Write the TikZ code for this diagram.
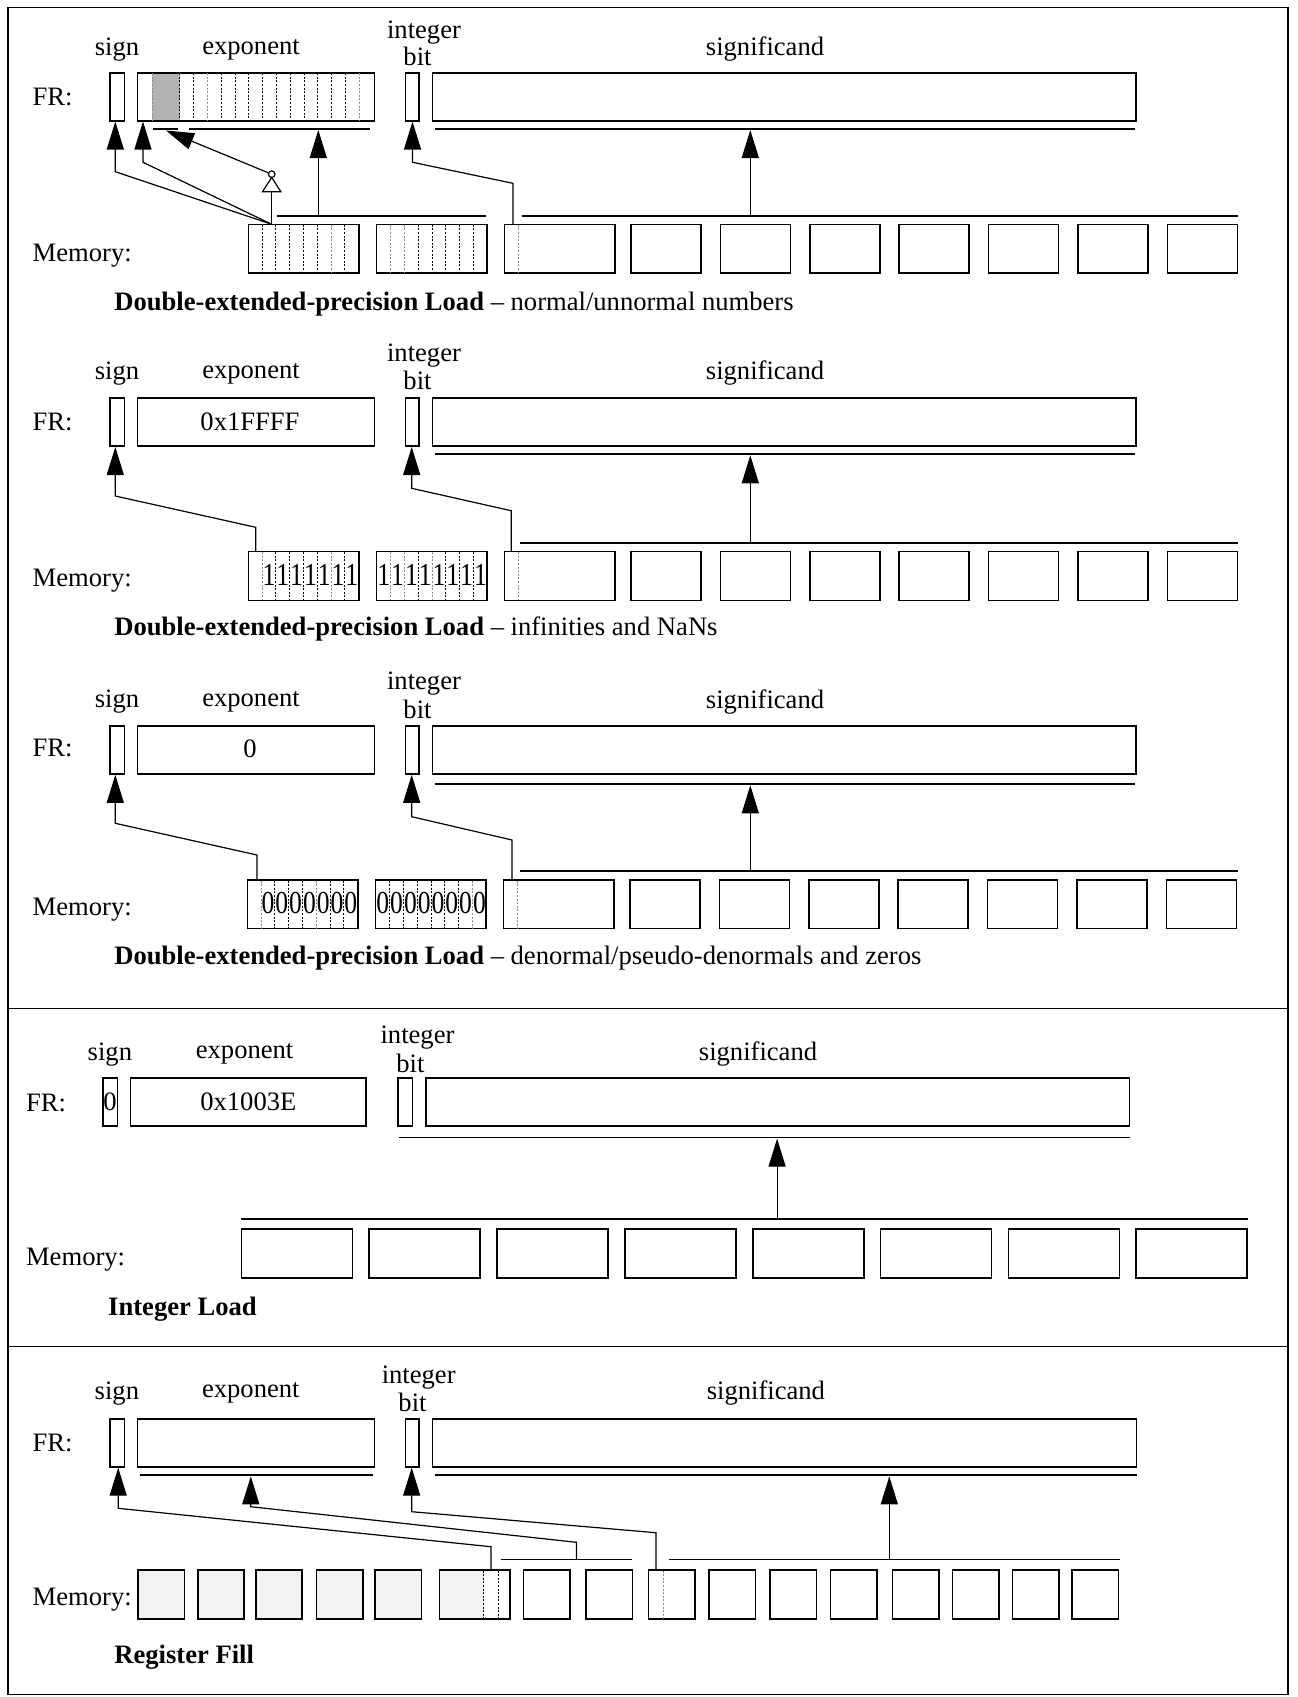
\documentclass[tikz,border=0pt]{standalone}
\usepackage{fontspec}
\setmainfont{Liberation Serif}
\newfontfamily\digitfont[FakeStretch=0.8]{Liberation Serif}
\usetikzlibrary{arrows.meta}

\tikzset{
  lbl/.style={font=\fontsize{13.3}{15}\selectfont, inner sep=0pt},
  digit/.style={font=\digitfont\fontsize{16}{16}\selectfont, inner sep=0pt},
  reg/.style={draw, line width=0.8pt, inner sep=0pt, minimum height=24pt, font=\fontsize{13.3}{15}\selectfont},
  mem/.style={draw, line width=0.8pt, inner sep=0pt, minimum height=24.4pt},
  bus/.style={line width=0.8pt},
  conn/.style={line width=0.6pt},
  arr/.style={conn, -{Triangle[length=14pt,width=8.5pt]}},
  bitln/.style={line width=0.5pt, dash pattern=on 1pt off 0.8pt},
  bitgr/.style={bitln, black!45},
}

\begin{document}
\begin{tikzpicture}[x=0.5pt, y=-0.5pt]
\useasboundingbox (0,0) rectangle (1297,1697);

% frame and dividers
\draw[line width=0.6pt] (8,7.3) rectangle (1288,1694.5);
\draw[line width=0.6pt] (8,1008.3) -- (1288,1008.3);
\draw[line width=0.6pt] (8,1346.5) -- (1288,1346.5);

% ---------- normal/unnormal numbers ----------
\node[lbl] (sgnl1) at (117,49.5) {sign};
\node[lbl] (expl1) at (251,49.5) {exponent};
\node[lbl] (intl1) at (424,32.5) {integer};
\node[lbl] (bitl1) at (417.5,56.7) {bit};
\node[lbl] (sigl1) at (765,49) {significand};
\node[lbl, anchor=west] (fr1) at (32.3,96.7) {FR:};
\fill[black!30] (152.3,73.2) rectangle (179.9,120.2);
\node[reg, minimum width=7.2pt] (sgn1) at (117.2,96.7) {};
\node[reg, minimum width=118.4pt] (exp1) at (256,96.7) {};
\node[reg, minimum width=6.75pt] (ib1) at (412.25,96.7) {};
\node[reg, minimum width=351.8pt] (sig1) at (784.2,96.7) {};
\foreach \k in {2,3,5,6,7,8,9,10,11,12,13,14}
  \draw[bitln] (152.3+13.8*\k,73.2) -- ++(0,47);
\foreach \k in {0,4,15}
  \draw[bitgr] (152.3+13.8*\k,73.2) -- ++(0,47);
\draw[bus] (153,128.7) -- (177.5,128.7);
\draw[bus] (189,128.7) -- (370,128.7);
\draw[bus] (434.5,128.7) -- (1135,128.7);
\coordinate (ul1) at (0,130);

\node[lbl, anchor=west] (meml1) at (32.3,256) {Memory:};
\foreach \k in {0,1,2}
  \node[mem, minimum width=55.2pt] (m1-\k) at (248.3+128.1*\k+55.2,248.8) {};
\foreach \j in {0,...,6}
  \node[mem, minimum width=35pt] (n1-\j) at (631+89.4*\j+35,248.8) {};
\foreach \k in {1,2,3,4,5,7}
  \draw[bitln] (248.3+13.8*\k,224.8) -- ++(0,48);
\draw[bitgr] (248.3+13.8*6,224.8) -- ++(0,48);
\foreach \k in {3,...,7}
  \draw[bitln] (376.9+13.8*\k,224.8) -- ++(0,48);
\foreach \k in {1,2}
  \draw[bitgr] (376.9+13.8*\k,224.8) -- ++(0,48);
\draw[bitgr] (518.3,224.8) -- ++(0,48);
\draw[bus] (276.5,215.7) -- (486,215.7);
\draw[bus] (521.6,215.7) -- (1237.7,215.7);

\coordinate (t1) at (271.7,224.3);
\coordinate (inv1) at (271.7,191.7);
\coordinate (tip1) at (166,130.5);
\coordinate (texp1) at (318.3,215.7);
\coordinate (tsig1) at (750.3,215.7);
\coordinate (tib1) at (512.9,224.3);
\draw[arr] (t1) -- (115.3,171.7) -- (115.3,0 |- sgn1.south);
\draw[arr] (t1) -- (143,162.3) -- (143,0 |- exp1.south);
\draw[conn] (t1) -- (inv1);
\draw[conn, fill=white] (262.5,191.7) -- (280.9,191.7) -- (271.7,177.5) -- cycle;
\node[draw, circle, conn, inner sep=0pt, minimum size=3.3pt] (bub1) at (271.7,174.2) {};
\draw[arr] (bub1) -- (tip1);
\draw[arr] (texp1) -- (texp1 |- ul1);
\draw[arr] (tsig1) -- (tsig1 |- ul1);
\draw[arr] (tib1) -- (512.9,183.3) -- (412.5,162.3) -- (412.5,0 |- ib1.south);

\node[lbl, anchor=west] (cap1) at (114,304) {\textbf{Double-extended-precision Load} -- normal/unnormal numbers};

% ---------- infinities and NaNs ----------
\node[lbl] (sgnl2) at (117,373.5) {sign};
\node[lbl] (expl2) at (251,373.5) {exponent};
\node[lbl] (intl2) at (424,355.5) {integer};
\node[lbl] (bitl2) at (417.5,380.5) {bit};
\node[lbl] (sigl2) at (765,373.5) {significand};
\node[lbl, anchor=west] (fr2) at (32.3,421.7) {FR:};
\node[reg, minimum width=7.2pt] (sgn2) at (117.2,422.2) {};
\node[reg, minimum width=118.4pt] (exp2) at (256,422.2) {};
\node[lbl] (exv2) at (250,421.7) {0x1FFFF};
\node[reg, minimum width=6.75pt] (ib2) at (412.25,422.2) {};
\node[reg, minimum width=351.8pt] (sig2) at (784.2,422.2) {};
\draw[bus] (434.5,454) -- (1135,454);
\coordinate (ul2) at (0,455.3);

\node[lbl, anchor=west] (meml2) at (32.3,580.7) {Memory:};
\foreach \k in {0,1,2}
  \node[mem, minimum width=55.2pt] (m2-\k) at (248.3+128.1*\k+55.2,575.9) {};
\foreach \j in {0,...,6}
  \node[mem, minimum width=35pt] (n2-\j) at (631+89.4*\j+35,575.9) {};
\foreach \k in {2,3,4,5,7}
  \draw[bitln] (248.3+13.8*\k,552.2) -- ++(0,48);
\foreach \k in {1,6}
  \draw[bitgr] (248.3+13.8*\k,552.2) -- ++(0,48);
\foreach \k in {3,5,6,7}
  \draw[bitln] (376.9+13.8*\k,552.2) -- ++(0,48);
\foreach \k in {1,2,4}
  \draw[bitgr] (376.9+13.8*\k,552.2) -- ++(0,48);
\draw[bitgr] (518.3,552.2) -- ++(0,48);
\foreach \k in {1,...,7}
  \node[digit] (d2a-\k) at (248.3+13.8*\k+6.9,575) {1};
\foreach \k in {0,...,7}
  \node[digit] (d2b-\k) at (376.9+13.8*\k+6.9,575) {1};
\draw[bus] (520.3,542.7) -- (1237.7,542.7);

\coordinate (ts2) at (255.8,551.7);
\coordinate (tsig2) at (750.3,542.7);
\coordinate (tib2) at (511.2,551.7);
\draw[arr] (ts2) -- (255.8,527.3) -- (115.3,496) -- (115.3,0 |- sgn2.south);
\draw[arr] (tsig2) -- (tsig2 |- ul2);
\draw[arr] (tib2) -- (511.2,510.7) -- (411.7,488.3) -- (411.7,0 |- ib2.south);

\node[lbl, anchor=west] (cap2) at (114,629) {\textbf{Double-extended-precision Load} -- infinities and NaNs};

% ---------- denormals and zeros ----------
\node[lbl] (sgnl3) at (117,702) {sign};
\node[lbl] (expl3) at (251,702) {exponent};
\node[lbl] (intl3) at (424,684) {integer};
\node[lbl] (bitl3) at (417.5,709.5) {bit};
\node[lbl] (sigl3) at (765,702) {significand};
\node[lbl, anchor=west] (fr3) at (32.3,748.3) {FR:};
\node[reg, minimum width=7.2pt] (sgn3) at (117.2,750) {};
\node[reg, minimum width=118.4pt] (exp3) at (256,750) {};
\node[lbl] (exv3) at (250,748.3) {0};
\node[reg, minimum width=6.75pt] (ib3) at (412.25,750) {};
\node[reg, minimum width=351.8pt] (sig3) at (784.2,750) {};
\draw[bus] (434.5,784) -- (1135,784);
\coordinate (ul3) at (0,785.3);

\node[lbl, anchor=west] (meml3) at (32.3,909.2) {Memory:};
\foreach \k in {0,1,2}
  \node[mem, minimum width=55.2pt] (m3-\k) at (247.3+128.1*\k+55.2,904.2) {};
\foreach \j in {0,...,6}
  \node[mem, minimum width=35pt] (n3-\j) at (630+89.4*\j+35,904.2) {};
\foreach \k in {2,3,4,6,7}
  \draw[bitln] (247.3+13.8*\k,880.5) -- ++(0,48);
\foreach \k in {1,5}
  \draw[bitgr] (247.3+13.8*\k,880.5) -- ++(0,48);
\foreach \k in {1,...,6}
  \draw[bitln] (375.9+13.8*\k,880.5) -- ++(0,48);
\draw[bitgr] (375.9+13.8*7,880.5) -- ++(0,48);
\draw[bitgr] (517.3,880.5) -- ++(0,48);
\foreach \k in {1,...,7}
  \node[digit] (d3a-\k) at (247.3+13.8*\k+6.9,903.5) {0};
\foreach \k in {0,...,7}
  \node[digit] (d3b-\k) at (375.9+13.8*\k+6.9,903.5) {0};
\draw[bus] (520,870.7) -- (1237.7,870.7);

\coordinate (ts3) at (257,880);
\coordinate (tsig3) at (750.3,870.7);
\coordinate (tib3) at (512,880);
\draw[arr] (ts3) -- (257,855) -- (115.3,823.3) -- (115.3,0 |- sgn3.south);
\draw[arr] (tsig3) -- (tsig3 |- ul3);
\draw[arr] (tib3) -- (512,840) -- (411.7,816.7) -- (411.7,0 |- ib3.south);

\node[lbl, anchor=west] (cap3) at (114,958.3) {\textbf{Double-extended-precision Load} -- denormal/pseudo-denormals and zeros};

% ---------- integer load ----------
\node[lbl] (sgnl4) at (109.9,1054.2) {sign};
\node[lbl] (expl4) at (244.6,1054.2) {exponent};
\node[lbl] (intl4) at (417.5,1037.5) {integer};
\node[lbl] (bitl4) at (410.4,1063.3) {bit};
\node[lbl] (sigl4) at (758,1054.2) {significand};
\node[lbl, anchor=west] (fr4) at (25.7,1102.5) {FR:};
\node[reg, minimum width=7.25pt] (sgn4) at (110.05,1101.85) {0};
\node[reg, minimum width=117.75pt] (exp4) at (248.35,1101.85) {0x1003E};
\node[reg, minimum width=7.25pt] (ib4) at (405.25,1101.85) {};
\node[reg, minimum width=351.9pt] (sig4) at (777.7,1101.85) {};
\draw[bus] (399.3,1137.3) -- (1129.6,1137.3);
\coordinate (ul4) at (0,1138.6);

\node[lbl, anchor=west] (meml4) at (25.7,1259.2) {Memory:};
\foreach \k in {0,...,7}
  \node[mem, minimum width=55.5pt] (m4-\k) at (241.3+127.85*\k+55.5,1253.5) {};
\draw[bus] (241.3,1219) -- (1247.5,1219);
\coordinate (tsig4) at (777.1,1219);
\draw[arr] (tsig4) -- (tsig4 |- ul4);

\node[lbl, anchor=west] (cap4) at (107.8,1309.2) {\textbf{Integer Load}};

% ---------- register fill ----------
\node[lbl] (sgnl5) at (116.9,1393.3) {sign};
\node[lbl] (expl5) at (250.8,1393.3) {exponent};
\node[lbl] (intl5) at (418.7,1377.5) {integer};
\node[lbl] (bitl5) at (412.5,1402.5) {bit};
\node[lbl] (sigl5) at (765.9,1393.3) {significand};
\node[lbl, anchor=west] (fr5) at (32.3,1443.3) {FR:};
\node[reg, minimum width=7.2pt] (sgn5) at (117.2,1442.85) {};
\node[reg, minimum width=118.4pt] (exp5) at (256,1442.85) {};
\node[reg, minimum width=6.85pt] (ib5) at (412.35,1442.85) {};
\node[reg, minimum width=352.1pt] (sig5) at (784.5,1442.85) {};
\draw[bus] (140.1,1475) -- (373.1,1475);
\draw[bus] (434.5,1475) -- (1136.6,1475);
\coordinate (ul5) at (0,1476.3);

\node[lbl, anchor=west] (meml5) at (32.3,1600) {Memory:};
\foreach \x [count=\i] in {138,197.8,255.8,316.3,375.2}
  \node[mem, fill=black!5, minimum width=23.2pt] (f5-\i) at (\x+23.2,1594.5) {};
\fill[black!5] (439.5,1570) rectangle (483.7,1619);
\node[mem, minimum width=35.25pt] (h5) at (474.75,1594.5) {};
\draw[bitln] (483.7,1570.5) -- ++(0,48);
\draw[bitln] (498,1570.5) -- ++(0,48);
\foreach \x [count=\i] in {523.4,586,648.6,709,770,830.5,892.4,952.6,1012.6,1072.2}
  \node[mem, minimum width=23.2pt] (r5-\i) at (\x+23.2,1594.5) {};
\draw[bitgr] (663,1570.5) -- ++(0,48);
\draw[bus] (500.5,1559.3) -- (632,1559.3);
\draw[bus] (668.8,1559.3) -- (1119.8,1559.3);

\coordinate (ts5) at (491,1570);
\coordinate (te5) at (576.5,1559.3);
\coordinate (tib5) at (655.9,1570);
\coordinate (tsig5) at (889.3,1559.3);
\draw[arr] (ts5) -- (491,1546.7) -- (118.2,1508.3) -- (118.2,0 |- sgn5.south);
\draw[arr] (te5) -- (576.5,1542.3) -- (250.8,1506.7) -- (250.8,0 |- ul5);
\draw[arr] (tib5) -- (655.9,1532.7) -- (411.7,1511.7) -- (411.7,0 |- ib5.south);
\draw[arr] (tsig5) -- (tsig5 |- ul5);

\node[lbl, anchor=west] (cap5) at (114,1657.5) {\textbf{Register Fill}};
\end{tikzpicture}
\end{document}
